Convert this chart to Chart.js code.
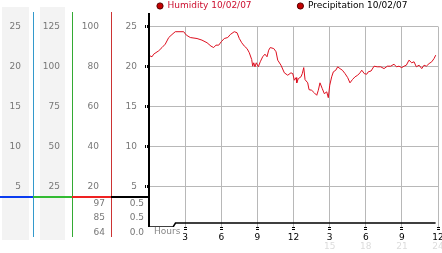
<!DOCTYPE html>
<html>
<head>
<meta charset="utf-8">
<script src="https://cdn.jsdelivr.net/npm/chart.js@4.4.0/dist/chart.umd.min.js"></script>
<style>
  body { margin: 0; background: #fff; }
  #wrap { width: 442px; height: 253px; position: relative; }
</style>
</head>
<body>
<div id="wrap"><canvas id="weatherChart"></canvas></div>
<script>
// humidity readings for 10/02/07, hour of day -> percent
const humidityHours = [0.06, 0.25, 0.39, 0.81, 1.08, 1.35, 1.64, 1.91, 2.18, 2.88,
  3.10, 3.43, 3.99, 4.40, 4.82, 5.15, 5.37, 5.56, 5.79, 6.00,
  6.25, 6.54, 6.75, 7.08, 7.31, 7.50, 7.70, 7.92, 8.14, 8.33,
  8.53, 8.61, 8.70, 8.80, 8.91, 9.08, 9.24, 9.44, 9.63, 9.80,
  9.94, 10.07, 10.36, 10.55, 10.69, 10.96, 11.24, 11.52, 11.79, 11.94,
  12.07, 12.21, 12.27, 12.40, 12.62, 12.73, 12.85, 12.96, 13.18, 13.29,
  13.51, 13.73, 13.93, 14.06, 14.20, 14.39, 14.56, 14.76, 14.89, 15.01,
  15.17, 15.31, 15.51, 15.67, 15.86, 16.06, 16.28, 16.50, 16.69, 16.89,
  17.11, 17.33, 17.52, 17.67, 17.88, 18.08, 18.21, 18.44, 18.69, 18.96,
  19.24, 19.52, 19.79, 20.07, 20.35, 20.54, 20.76, 20.99, 21.18, 21.37,
  21.59, 21.82, 22.01, 22.20, 22.43, 22.65, 22.84, 23.03, 23.26, 23.48,
  23.67, 23.81];
const humidity = [85.4, 84.9, 86.2, 87.9, 89.5, 91.2, 94.5, 96.0, 97.4, 97.4,
  95.7, 94.5, 94.0, 93.2, 91.9, 90.2, 89.5, 90.7, 90.7, 92.4,
  94.0, 94.5, 96.0, 97.4, 96.9, 94.0, 91.9, 90.2, 89.0, 86.9,
  83.5, 80.2, 81.9, 79.9, 81.9, 79.9, 82.4, 84.9, 86.2, 84.9,
  88.2, 89.5, 89.0, 87.4, 83.2, 80.7, 76.9, 75.7, 76.9, 76.5,
  73.2, 74.5, 71.9, 74.0, 74.9, 76.5, 79.5, 73.5, 71.9, 68.5,
  68.2, 66.9, 65.7, 68.2, 71.9, 69.0, 66.5, 67.4, 64.5, 70.7,
  74.9, 77.4, 78.2, 79.9, 79.0, 78.2, 76.5, 74.5, 71.9, 73.5,
  74.9, 75.7, 76.9, 78.2, 76.5, 76.2, 77.4, 77.8, 80.2, 79.9,
  79.9, 79.0, 80.2, 80.2, 81.2, 79.9, 80.2, 79.5, 80.2, 80.7,
  83.2, 81.9, 82.4, 79.9, 80.7, 79.0, 80.7, 80.2, 81.5, 82.4,
  84.0, 85.7];

// precipitation (running total) for the same day
const precipHours = [0, 2.0, 2.2, 23.8];
const precipitation = [0, 0, 0.5, 0.5];

// tick labels, one per tick (first tick is the empty bottom one)
const hourLabels = ['', '3', '6', '9', '12', '3', '6', '9', '12'];
const hour24Labels = ['', '', '', '', '', '15', '18', '21', '24'];
const scaleA = ['', '5', '10', '15', '20', '25'];
const scaleB = ['', '25', '50', '75', '100', '125'];
const scaleHumidity = ['', '20', '40', '60', '80', '100'];
const scalePrecip = ['', '5', '10', '15', '20', '25'];

// max / avg / min shown under the columns
const humidityStats = ['97', '85', '64'];
const precipStats = ['0.5', '0.5', '0.0'];

const seriesNames = ['Humidity 10/02/07', 'Precipitation 10/02/07'];
const legendTextColors = ['#cc1030', '#000000'];

const FONT = 'DejaVu Sans';
const GRID = '#b8b8b8';
const CLEAR = 'rgba(0,0,0,0)';

// the left hand columns: [scale id, line colour, bar colour]
const columns = [
  ['yA', '#3399cc', '#0a3cf0'],
  ['yB', '#33aa33', '#33bb33'],
  ['yH', '#cc3333', '#ee2222'],
  ['yP', '#000000', '#000000']
];

function sideAxis(max, step, labels, weight, width) {
  return {
    type: 'linear',
    position: 'left',
    weight: weight,
    min: 0,
    max: max,
    afterFit: function(s) { s.width = width; },
    ticks: {
      stepSize: step,
      padding: 12,
      color: '#777',
      font: { family: FONT, size: 9 },
      callback: function(v, i) { return labels[i]; }
    },
    grid: { display: false, drawTicks: false },
    border: { display: false }
  };
}

// draws the shaded columns, the column lines, the split bar and the stats
const panelPlugin = {
  id: 'panel',
  beforeDraw(chart) {
    const ctx = chart.ctx;
    const a = chart.scales.yA, b = chart.scales.yB;
    ctx.save();
    ctx.fillStyle = '#f3f3f3';
    ctx.fillRect(a.left + 2, 7, a.right - a.left - 6, 233);
    ctx.fillRect(b.left + 7, 7, b.right - b.left - 14, 233);
    ctx.restore();
  },
  afterDraw(chart) {
    const ctx = chart.ctx;
    const area = chart.chartArea;
    ctx.save();
    // vertical lines of the columns
    columns.forEach(function(c) {
      const s = chart.scales[c[0]];
      const x = Math.round(s.right);
      ctx.fillStyle = c[1];
      if (c[0] === 'yP') {
        ctx.fillRect(x - 1, 13, 2, area.bottom - 13);
      } else {
        ctx.fillRect(x, 12, 1, 225);
      }
    });
    // coloured split bar
    const splitY = area.bottom - 31;
    let x0 = 0;
    columns.forEach(function(c) {
      const s = chart.scales[c[0]];
      ctx.fillStyle = c[2];
      ctx.fillRect(x0, splitY, Math.round(s.right) - x0, 2);
      x0 = Math.round(s.right);
    });
    // stats
    ctx.font = '9px "' + FONT + '"';
    ctx.fillStyle = '#777';
    ctx.textAlign = 'right';
    ctx.textBaseline = 'middle';
    const rows = [area.bottom - 23, area.bottom - 9, area.bottom + 5.5];
    const h = chart.scales.yH, p = chart.scales.yP;
    rows.forEach(function(y, i) {
      ctx.fillText(humidityStats[i], h.right - 6, y);
      ctx.fillText(precipStats[i], p.right - 5, y);
    });
    // axis name
    ctx.textAlign = 'left';
    ctx.textBaseline = 'top';
    ctx.fillStyle = '#888';
    ctx.fillText('Hours', area.left + 5, area.bottom + 0.5);
    ctx.restore();
  }
};

const humidityPoints = humidityHours.map(function(h, i) { return { x: h, y: humidity[i] }; });
const precipPoints = precipHours.map(function(h, i) { return { x: h, y: precipitation[i] }; });

new Chart(document.getElementById('weatherChart'), {
  type: 'line',
  data: {
    datasets: [
      {
        label: seriesNames[0],
        data: humidityPoints,
        yAxisID: 'yH',
        borderColor: '#dd1020',
        borderWidth: 1,
        pointRadius: 0,
        tension: 0
      },
      {
        label: seriesNames[1],
        data: precipPoints,
        yAxisID: 'yP',
        borderColor: '#000',
        borderWidth: 1.5,
        pointRadius: 0,
        tension: 0
      }
    ]
  },
  options: {
    responsive: true,
    maintainAspectRatio: false,
    animation: false,
    layout: { padding: { top: -6.5, left: 0, right: 0, bottom: 0 } },
    plugins: {
      tooltip: { enabled: false },
      legend: {
        position: 'top',
        align: 'start',
        fullSize: false,
        weight: 3000,
        labels: {
          usePointStyle: true,
          boxWidth: 6,
          boxHeight: 4.4,
          padding: 8,
          font: { family: FONT, size: 9 },
          generateLabels: function(chart) {
            return chart.data.datasets.map(function(ds, i) {
              return {
                text: ds.label + (i === 0 ? '\u2003\u2003\u2003\u2003\u2009' : ''),
                fillStyle: '#c40000',
                strokeStyle: '#5a0000',
                lineWidth: 1,
                pointStyle: 'circle',
                fontColor: legendTextColors[i],
                datasetIndex: i,
                hidden: false
              };
            });
          }
        }
      },
      // empty title just keeps a gap under the legend
      title: {
        display: true,
        text: '',
        position: 'top',
        fullSize: false,
        padding: 0,
        font: { size: 5 }
      }
    },
    scales: {
      x: {
        type: 'linear',
        position: 'bottom',
        min: 0,
        max: 24,
        afterFit: function(s) { s.height = 14; s.paddingLeft = 0; s.paddingRight = 4; },
        ticks: {
          stepSize: 3,
          padding: 1,
          color: '#000',
          maxRotation: 0,
          autoSkip: false,
          font: { family: FONT, size: 9 },
          callback: function(v, i) { return hourLabels[i]; }
        },
        grid: {
          color: function(c) { return c.tick && c.tick.value === 0 ? CLEAR : GRID; },
          tickLength: 4,
          tickWidth: 3,
          tickBorderDash: [1, 1],
          tickColor: function(c) { return c.tick && c.tick.value === 0 ? CLEAR : '#000'; }
        },
        border: { display: false }
      },
      x2: {
        type: 'linear',
        position: 'bottom',
        weight: 1,
        min: 0,
        max: 24,
        afterFit: function(s) { s.height = 12; s.paddingLeft = 0; s.paddingRight = 4; },
        ticks: {
          stepSize: 3,
          padding: 0,
          color: '#dcdcdc',
          maxRotation: 0,
          autoSkip: false,
          font: { family: FONT, size: 9 },
          callback: function(v, i) { return hour24Labels[i]; }
        },
        grid: { display: false, drawTicks: false },
        border: { display: false }
      },
      yA: sideAxis(25, 5, scaleA, 3, 33),
      yB: sideAxis(125, 25, scaleB, 2, 39),
      yH: sideAxis(100, 20, scaleHumidity, 1, 39),
      yP: {
        type: 'linear',
        position: 'left',
        weight: 0,
        min: 0,
        max: 25,
        afterFit: function(s) { s.width = 38; },
        ticks: {
          stepSize: 5,
          padding: 8,
          color: '#777',
          font: { family: FONT, size: 9 },
          callback: function(v, i) { return scalePrecip[i]; }
        },
        grid: {
          color: function(c) { return c.tick && c.tick.value === 0 ? CLEAR : GRID; },
          tickLength: 4,
          tickWidth: 3,
          tickBorderDash: [1, 1],
          tickColor: function(c) { return c.tick && c.tick.value === 0 ? CLEAR : '#000'; }
        },
        border: { display: false }
      }
    }
  },
  plugins: [panelPlugin]
});
</script>
</body>
</html>
